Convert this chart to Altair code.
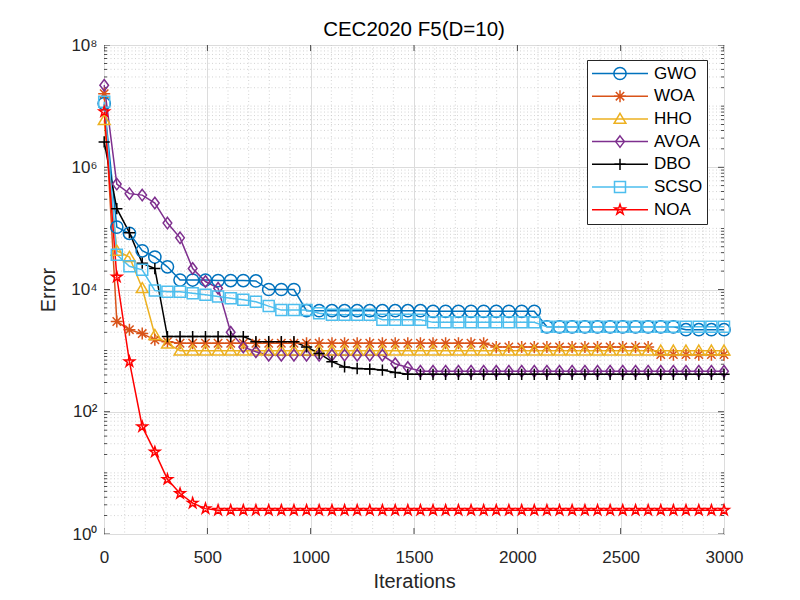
import altair as alt
import pandas as pd

# ---------------- data ----------------
iterations = [1, 62, 123, 185, 246, 307, 368, 429, 491, 552, 613, 674, 735, 797, 858,
              919, 980, 1041, 1103, 1164, 1225, 1286, 1347, 1409, 1470, 1531, 1592, 1653,
              1715, 1776, 1837, 1898, 1959, 2021, 2082, 2143, 2204, 2265, 2327, 2388, 2449,
              2510, 2572, 2633, 2694, 2755, 2816, 2878, 2939, 3000]

algorithms = ["GWO", "WOA", "HHO", "AVOA", "DBO", "SCSO", "NOA"]

gwo = ([1.1e7, 1.05e5, 8.3e4, 4.3e4, 3.4e4, 2.35e4, 1.43e4, 1.43e4, 1.43e4, 1.4e4,
        1.4e4, 1.4e4, 1.38e4, 1.0e4, 1.0e4, 1.0e4]
       + [4.5e3] * 10 + [4.4e3] * 9 + [2.45e3] * 11 + [2.2e3] * 4)
woa = ([1.6e7, 3.0e3, 2.2e3, 1.9e3, 1.5e3, 1.4e3]
       + [1.32e3] * 25 + [1.15e3] * 13 + [8.6e2] * 6)
hho = [5.9e6, 4.3e4, 3.4e4, 1.05e4, 1.8e3, 1.3e3] + [1.0e3] * 44
avoa = ([2.2e7, 5.3e5, 3.7e5, 3.5e5, 2.6e5, 1.22e5, 7.0e4, 2.2e4, 1.35e4, 1.05e4,
         2.0e3, 1.15e3, 9.6e2] + [8.4e2] * 10 + [6.1e2, 5.3e2] + [4.6e2] * 25)
dbo = ([2.6e6, 2.1e5, 8.5e4, 2.7e4, 2.2e4] + [1.7e3] * 7 + [1.4e3] * 4
       + [1.15e3, 9.0e2, 6.6e2, 5.4e2, 5.1e2, 5.0e2, 4.8e2, 4.4e2] + [4.1e2] * 26)
scso = ([1.18e7, 3.7e4, 2.4e4, 2.1e4, 9.6e3, 9.2e3, 9.2e3, 8.7e3, 8.2e3, 7.7e3, 7.2e3,
         6.8e3, 6.3e3, 5.35e3, 4.6e3, 4.6e3, 4.6e3, 4.1e3]
        + [3.85e3] * 4 + [3.2e3] * 4 + [2.9e3] * 9 + [2.45e3] * 15)
noa = [8.1e6, 1.6e4, 6.6e2, 57, 22, 7.85, 4.6, 3.2, 2.6] + [2.45] * 41

series = [gwo, woa, hho, avoa, dbo, scso, noa]

x_ticks = [0, 500, 1000, 1500, 2000, 2500, 3000]
y_ticks = [1, 1e2, 1e4, 1e6, 1e8]
x_minor = [v for v in range(100, 3000, 100) if v % 500 != 0]
y_minor = [m * 10 ** k for k in range(8) for m in range(2, 10)] + [10, 1e3, 1e5, 1e7]

# ---------------- tables ----------------
rows = []
for name, vals in zip(algorithms, series):
    for it, v in zip(iterations, vals):
        rows.append({"Iteration": it, "Algorithm": name, "Error": v})
df = pd.DataFrame(rows)
df_xminor = pd.DataFrame({"Iteration": x_minor})
df_yminor = pd.DataFrame({"Error": y_minor})
df_xmajor = pd.DataFrame({"Iteration": x_ticks})
df_ymajor = pd.DataFrame({"Error": y_ticks})

# ---------------- styles ----------------
FONT = "Liberation Sans"
TXT = "#262626"
W, H = 620, 489
colors = ["#0072BD", "#D95319", "#EDB120", "#7E2F8E", "#000000", "#4DBEEE", "#FF0000"]
star = ("M0,-1L0.225,-0.309L0.951,-0.309L0.363,0.118L0.588,0.809L0,0.382"
        "L-0.588,0.809L-0.363,0.118L-0.951,-0.309L-0.225,-0.309Z")
shapes = [
    "circle",
    "M-1,0L1,0M0,-1L0,1M-0.7,-0.7L0.7,0.7M-0.7,0.7L0.7,-0.7",
    "M0,-0.95L1,0.75L-1,0.75Z",
    "M0,-1L0.75,0L0,1L-0.75,0Z",
    "M-1,0L1,0M0,-1L0,1",
    "M-1,-1L1,-1L1,1L-1,1Z",
    star,
]
sizes = [150, 115, 180, 280, 150, 115, 210]

color_scale = alt.Scale(domain=algorithms, range=colors)
xscale = alt.Scale(domain=[0, 3000], nice=False, zero=False)
yscale = alt.Scale(type="log", domain=[1, 1e8], nice=False)

x_axis = alt.Axis(values=x_ticks, title="Iterations", grid=True, gridColor="#DCDCDC",
                  domain=False, ticks=False, labelFontSize=17, labelPadding=15,
                  labelFlush=False, format="d",
                  titleFontSize=20, titleFontWeight="normal", titlePadding=6,
                  labelColor=TXT, titleColor=TXT, labelFont=FONT, titleFont=FONT)
y_axis = alt.Axis(values=y_ticks, title="Error", grid=True, gridColor="#DCDCDC",
                  domain=False, ticks=False, labelFontSize=17, labelPadding=7,
                  labelFlush=False,
                  titleFontSize=20, titleFontWeight="normal", titlePadding=12,
                  labelColor=TXT, titleColor=TXT, labelFont=FONT, titleFont=FONT,
                  labelExpr=("datum.value == 1 ? '10⁰' : datum.value == 100 ? '10²' : "
                             "datum.value == 10000 ? '10⁴' : datum.value == 1000000 ? '10⁶' : '10⁸'"))

X = alt.X("Iteration:Q", scale=xscale, axis=x_axis)
Y = alt.Y("Error:Q", scale=yscale, axis=y_axis)

legend_common = dict(orient="none", legendX=483, legendY=15, title=None, padding=4,
                     clipHeight=19, rowPadding=3.7, labelFontSize=17, labelFont=FONT,
                     labelColor="#000000", symbolStrokeWidth=1.5)

legend_lines = alt.Legend(symbolType="stroke", symbolSize=3136, symbolOffset=0,
                          labelOffset=5, strokeColor=TXT, fillColor="white", zindex=1,
                          labelExpr="datum.label + '    '", **legend_common)
legend_marks = alt.Legend(symbolSize=170, symbolOffset=20.5, labelOffset=5,
                          labelExpr="''", zindex=2, **legend_common)

grid_style = dict(color="#C8C8C8", strokeWidth=0.8, strokeDash=[1, 2.5])
xminor = alt.Chart(df_xminor).mark_rule(**grid_style).encode(x=X)
yminor = alt.Chart(df_yminor).mark_rule(**grid_style).encode(y=Y)

# inward MATLAB-style ticks (half of each tick is clipped away at the box edge)
tick_style = dict(color=TXT, thickness=0.8, clip=True, opacity=1)
ticks_major_y = [
    alt.Chart(df_ymajor).mark_tick(orient="horizontal", size=12, **tick_style)
    .encode(y=Y, x=alt.value(xv)) for xv in (0, W)
]
ticks_minor_y = [
    alt.Chart(df_yminor).mark_tick(orient="horizontal", size=6, **tick_style)
    .encode(y=Y, x=alt.value(xv)) for xv in (0, W)
]
ticks_major_x = [
    alt.Chart(df_xmajor).mark_tick(orient="vertical", size=12, **tick_style)
    .encode(x=X, y=alt.value(yv)) for yv in (0, H)
]

lines = alt.Chart(df).mark_line(strokeWidth=1.5).encode(
    x=X, y=Y,
    color=alt.Color("Algorithm:N", scale=color_scale, sort=algorithms, legend=legend_lines),
)
points = alt.Chart(df).mark_point(filled=False, strokeWidth=1.5, opacity=1).encode(
    x=X, y=Y,
    color=alt.Color("Algorithm:N", scale=color_scale, sort=algorithms, legend=legend_marks),
    shape=alt.Shape("Algorithm:N", scale=alt.Scale(domain=algorithms, range=shapes),
                    sort=algorithms, legend=legend_marks),
    size=alt.Size("Algorithm:N", scale=alt.Scale(domain=algorithms, range=sizes),
                  legend=None),
)

chart = (
    alt.layer(xminor, yminor, *ticks_major_y, *ticks_minor_y, *ticks_major_x, lines, points)
    .resolve_scale(color="independent", shape="independent", size="independent")
    .properties(
        width=W, height=H,
        autosize=alt.AutoSizeParams(type="none"),
        padding={"left": 96, "top": 37, "right": 60, "bottom": 60},
        title=alt.Title("CEC2020 F5(D=10)", fontSize=20.5, fontWeight="normal",
                        font=FONT, color="#000000", offset=-4, anchor="middle",
                        frame="group"),
        background="white",
    )
    .configure_view(stroke=TXT, strokeWidth=1)
)

chart.save("out.html", embed_options={"renderer": "svg", "actions": False})
